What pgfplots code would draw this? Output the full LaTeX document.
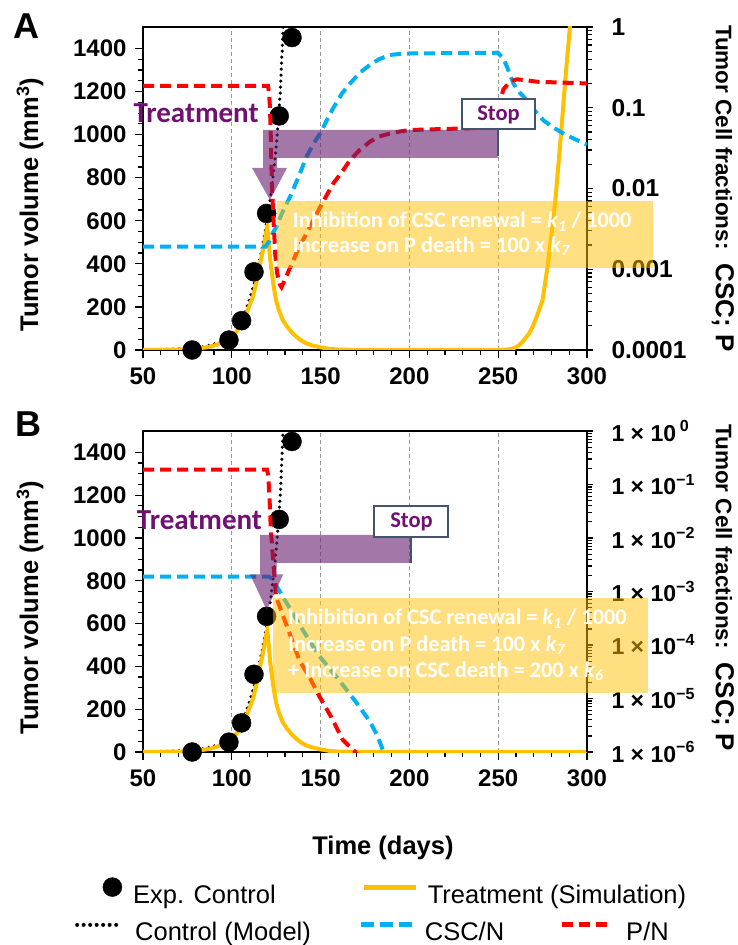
\documentclass[border=0pt]{standalone}
\usepackage{pgfplots}
\pgfplotsset{compat=1.18}
\usepackage{fontspec}
\setmainfont{Liberation Sans}
\newfontfamily\calfont{Carlito}
\definecolor{yel}{RGB}{255,192,0}
\definecolor{cblue}{RGB}{0,176,240}
\definecolor{cred}{RGB}{255,0,0}
\definecolor{purp}{RGB}{112,16,112}
\definecolor{arrowp}{RGB}{102,30,110}
\definecolor{stopb}{RGB}{68,84,106}

\pgfplotsset{
  commonax/.style={scale only axis, width=444pt, xmin=50, xmax=300,
    tick align=outside, axis line style={line width=1.3pt},
    every tick/.style={black, line width=1.2pt}},
  leftax/.style={commonax, ymin=0, ymax=1500,
    xtick={50,100,150,200,250,300}, xticklabels={50,100,150,200,250,300},
    minor x tick num=4,
    ytick={0,200,400,600,800,1000,1200,1400},
    yticklabels={0,200,400,600,800,1000,1200,1400},
    minor y tick num=3,
    xtick pos=left, ytick pos=left,
    major tick length=8pt, minor tick length=5pt,
    xmajorgrids, grid style={gray!80, dash pattern=on 4pt off 3pt, line width=0.9pt},
    tick label style={font=\fontsize{24}{24}\selectfont\bfseries},
    yticklabel style={xshift=-5pt},
    xticklabel style={yshift=-6pt},
    ylabel={Tumor volume (mm\textsuperscript{3})},
    every axis y label/.style={at={(axis description cs:-0.2545,0.45)}, rotate=90, anchor=center, font=\fontsize{25.5}{26}\selectfont\bfseries},
  },
  rightax/.style={commonax, axis x line=none, axis y line*=right, ytick pos=right,
    major tick length=6pt, minor tick length=5pt,
    every axis y label/.style={at={(axis description cs:1.306,0.5)}, rotate=-90, anchor=center, font=\bfseries},
    ylabel={\fontsize{22.5}{23}\selectfont Tumor Cell fractions:\hspace{14pt}\fontsize{26}{27}\selectfont CSC; P},
  },
  yelplot/.style={yel, line width=4pt},
  ctrlplot/.style={black, line width=3.5pt, line cap=round, dash pattern=on 0pt off 6pt},
  dotplot/.style={only marks, mark=*, mark size=9.5pt, black},
  blueplot/.style={cblue, line width=4pt, dash pattern=on 11pt off 6pt},
  redplot/.style={cred, line width=4pt, dash pattern=on 11pt off 6pt},
}

\begin{document}
\begin{tikzpicture}[x=1pt,y=1pt]
\path[use as bounding box] (0,0) rectangle (737,945);

%%%%%%%%%%%%%%%% PANEL A %%%%%%%%%%%%%%%%
\begin{axis}[leftax, height=323pt, at={(143pt,595pt)}, anchor=south west]
\addplot[ctrlplot] coordinates {(50,0.5) (80,7) (95,38) (100,58) (105,120) (110,235) (114,350) (117,470) (119,560) (121,660) (123,790) (124.5,900) (126,1040) (127.3,1200) (128.3,1380) (129,1520)};
\addplot[yelplot] coordinates {(50,0.3) (60,0.8) (70,2) (77,4) (82,8) (87,14) (91,23) (95,36) (98,48) (100.6,62) (103,90) (106,135) (109,185) (112,250) (114,320) (115.6,387) (117,440) (118.5,505) (119.3,545) (120,571) (120.8,500) (121.5,430) (122.1,387) (123.5,300) (124.9,232) (126.5,185) (128.7,139) (131,110) (134.3,77) (138,50) (141.8,31) (145,22) (149.5,13) (155,5) (160,2) (170,0.5) (200,0) (250,0.3) (255,2) (258,6) (260.4,14) (262.5,28) (264.5,46) (267.5,78) (269.5,110) (271.7,155) (275,232) (277.8,387) (280.1,542) (282.2,697) (283.8,851) (285.4,1006) (286.9,1161) (288.4,1315) (290.4,1500) (291,1580)};
\addplot[dotplot] coordinates {(77.7,0) (98.4,46) (105.5,136) (112.5,363) (119.6,634) (126.7,1087) (133.9,1451)};
\end{axis}
\begin{semilogyaxis}[rightax, height=323pt, at={(143pt,595pt)}, anchor=south west,
  ymin=1e-4, ymax=1,
  ytick={1e-4,1e-3,1e-2,1e-1,1}, yticklabels={0.0001,0.001,0.01,0.1,1},
  minor ytick={2e-4,3e-4,4e-4,5e-4,6e-4,7e-4,8e-4,9e-4,2e-3,3e-3,4e-3,5e-3,6e-3,7e-3,8e-3,9e-3,0.02,0.03,0.04,0.05,0.06,0.07,0.08,0.09,0.2,0.3,0.4,0.5,0.6,0.7,0.8,0.9},
  yticklabel style={font=\fontsize{24.5}{25}\selectfont\bfseries, xshift=15pt}]
\addplot[blueplot] coordinates {(50,0.0019) (119,0.0019) (121,0.0022) (123,0.0028) (125.3,0.0034) (128,0.0048) (132.8,0.0079) (137,0.013) (142.2,0.025) (146,0.036) (149.8,0.048) (153.5,0.07) (157.2,0.10) (162,0.15) (166.6,0.20) (172,0.27) (177.8,0.34) (183,0.40) (189,0.45) (195,0.465) (200,0.47) (249.7,0.48) (252.9,0.41) (255.5,0.3) (258.5,0.20) (262,0.155) (266,0.125) (270,0.095) (275.4,0.07) (281,0.057) (286.7,0.048) (293,0.041) (300,0.035)};
\addplot[redplot] coordinates {(50,0.186) (120.4,0.186) (121,0.15) (121.5,0.1) (122,0.04) (122.5,0.012) (123.5,0.004) (124.5,0.0015) (125.5,0.0009) (127,0.00065) (128,0.0006) (130,0.00075) (132,0.00095) (134.7,0.0013) (138,0.0019) (142.2,0.0028) (146,0.0041) (149.8,0.0059) (153.5,0.0083) (157.2,0.0116) (162,0.016) (166.6,0.0225) (172,0.03) (177.8,0.038) (183,0.044) (189,0.048) (195,0.051) (200,0.053) (225,0.055) (249.7,0.057) (250.5,0.08) (251.2,0.125) (253,0.17) (256.6,0.21) (260.4,0.225) (265,0.22) (271.7,0.21) (285,0.205) (300,0.2)};
\end{semilogyaxis}

%%%%%%%%%%%%%%%% PANEL B %%%%%%%%%%%%%%%%
\begin{axis}[leftax, height=321pt, at={(143pt,193pt)}, anchor=south west,
  xlabel={Time (days)},
  every axis x label/.style={at={(axis description cs:0.5405,-0.299)}, anchor=center, font=\fontsize{25.5}{26}\selectfont\bfseries},
  legend style={draw=none, fill=none, inner sep=0pt, at={(axis description cs:-0.0912,-0.433)}, anchor=west,
    font=\fontsize{25.5}{26}\selectfont, nodes={inner sep=0pt},
    /tikz/column 1/.style={column sep=11pt}, /tikz/column 2/.style={column sep=86pt}, /tikz/column 3/.style={column sep=9pt}},
  legend columns=2]
\addlegendimage{legend image code/.code={\fill[black] (9.5pt,7.5pt) circle (9.5pt);}}
\addlegendentry{Exp. Control}
\addlegendimage{legend image code/.code={\draw[yel, line width=5pt] (0pt,7.5pt) -- (52pt,7.5pt);}}
\addlegendentry{Treatment (Simulation)}
\addplot[ctrlplot, forget plot] coordinates {(50,0.5) (80,7) (95,38) (100,58) (105,120) (110,235) (114,350) (117,470) (119,560) (121,660) (123,790) (124.5,900) (126,1040) (127.3,1200) (128.3,1380) (129,1520)};
\addplot[yelplot, forget plot] coordinates {(50,0.3) (60,0.8) (70,2) (77,4) (82,8) (87,14) (91,23) (95,36) (98,48) (100.6,62) (103,90) (106,135) (109,185) (112,250) (114,320) (115.6,387) (117,440) (118.5,505) (119.3,545) (120,571) (120.8,500) (121.5,430) (122.1,387) (123.5,300) (124.9,232) (126.5,185) (128.7,139) (131,110) (134.3,77) (138,50) (141.8,31) (145,22) (149.5,13) (155,5) (160,2) (170,0.5) (200,0) (300,0)};
\addplot[dotplot, forget plot] coordinates {(77.7,0) (98.4,46) (105.5,136) (112.5,363) (119.6,634) (126.7,1087) (133.9,1451)};
\end{axis}
\begin{semilogyaxis}[rightax, height=321pt, at={(143pt,193pt)}, anchor=south west,
  ymin=1e-6, ymax=1,
  ytick={1e-6,1e-5,1e-4,1e-3,1e-2,1e-1,1},
  yticklabels={1 × 10\textsuperscript{−6},1 × 10\textsuperscript{−5},1 × 10\textsuperscript{−4},1 × 10\textsuperscript{−3},1 × 10\textsuperscript{−2},1 × 10\textsuperscript{−1},1 × 10\,\textsuperscript{0}},
  minor ytick={2e-6,3e-6,4e-6,5e-6,6e-6,7e-6,8e-6,9e-6,2e-5,3e-5,4e-5,5e-5,6e-5,7e-5,8e-5,9e-5,2e-4,3e-4,4e-4,5e-4,6e-4,7e-4,8e-4,9e-4,2e-3,3e-3,4e-3,5e-3,6e-3,7e-3,8e-3,9e-3,0.02,0.03,0.04,0.05,0.06,0.07,0.08,0.09,0.2,0.3,0.4,0.5,0.6,0.7,0.8,0.9},
  yticklabel style={font=\fontsize{23}{24}\selectfont\bfseries, xshift=15pt},
  every axis y label/.style={at={(axis description cs:1.306,0.512)}, rotate=-90, anchor=center, font=\bfseries},
  legend style={draw=none, fill=none, inner sep=0pt, at={(axis description cs:-0.1532,-0.562)}, anchor=west,
    font=\fontsize{25.5}{26}\selectfont, nodes={inner sep=0pt},
    /tikz/column 1/.style={column sep=12pt}, /tikz/column 2/.style={column sep=48pt}, /tikz/column 3/.style={column sep=10pt},
    /tikz/column 4/.style={column sep=55pt}, /tikz/column 5/.style={column sep=17pt}},
  legend columns=3]
\addlegendimage{legend image code/.code={\draw[black, line width=4pt, line cap=round, dash pattern=on 0pt off 6.5pt] (2pt,7.5pt) -- (46pt,7.5pt);}}
\addlegendentry{Control (Model)}
\addlegendimage{legend image code/.code={\draw[cblue, line width=5pt, dash pattern=on 13pt off 6pt] (0pt,7.5pt) -- (51pt,7.5pt);}}
\addlegendentry{CSC/N}
\addlegendimage{legend image code/.code={\draw[cred, line width=5pt, dash pattern=on 11pt off 6pt] (0pt,7.5pt) -- (45pt,7.5pt);}}
\addlegendentry{P/N}
\addplot[blueplot, forget plot] coordinates {(50,0.0019) (121,0.0019) (123,0.0017) (125,0.0013) (128.7,0.0008) (135,0.00036) (140,0.00019) (149.3,0.000062) (160,0.000023) (170,0.0000085) (177.8,0.0000037) (182,0.000002) (185.5,0.000001) (187,0.0000008)};
\addplot[redplot, forget plot] coordinates {(50,0.19) (119.8,0.19) (120.5,0.15) (121.2,0.06) (122,0.014) (123.4,0.0034) (124.9,0.0008) (128,0.00042) (132.4,0.00017) (138,0.000052) (144,0.000024) (149.3,0.000011) (156,0.0000045) (162.4,0.0000017) (169.5,0.000001) (171,0.0000008)};
\end{semilogyaxis}

%%%%%%%%%%%%%%%% ANNOTATIONS %%%%%%%%%%%%%%%%
\node[anchor=base west, inner sep=0pt, font=\fontsize{36}{36}\selectfont\bfseries] at (13,906) {A};
\node[anchor=base west, inner sep=0pt, font=\fontsize{36}{36}\selectfont\bfseries] at (15,508.3) {B};

% Panel A annotations
\fill[arrowp, fill opacity=0.6] (263,815) -- (497.7,815) -- (497.7,787) -- (277,787) -- (277,777) -- (287,777) -- (270,745) -- (252,777) -- (263,777) -- cycle;
\node[anchor=base west, inner sep=0pt, text=purp, font=\calfont\fontsize{29}{29}\selectfont\bfseries] at (133.3,822.7) {Treatment};
\draw[stopb, line width=2.2pt] (498,816) -- (498,789);
\draw[stopb, line width=2.2pt, fill=white] (462,846) rectangle (535,816);
\node[inner sep=0pt, text=purp, font=\calfont\fontsize{22.5}{23}\selectfont\bfseries] at (498.5,830) {Stop};
\fill[yel, fill opacity=0.5] (277,744) rectangle (653,677);
\node[anchor=base west, inner sep=0pt, text=white, font=\calfont\fontsize{22.3}{23}\selectfont\bfseries] at (292.7,717) {Inhibition of CSC renewal = \textit{k}\textsubscript{\textit{1}} / 1000};
\node[anchor=base west, inner sep=0pt, text=white, font=\calfont\fontsize{22.3}{23}\selectfont\bfseries] at (292.7,692.5) {Increase on P death = 100 x \textit{k}\textsubscript{\textit{7}}};

% Panel B annotations
\fill[arrowp, fill opacity=0.6] (260,410) -- (411,410) -- (411,382) -- (276.7,382) -- (276.7,370.7) -- (283.3,370.7) -- (266.7,335) -- (250,370.7) -- (260,370.7) -- cycle;
\node[anchor=base west, inner sep=0pt, text=purp, font=\calfont\fontsize{29}{29}\selectfont\bfseries] at (136.7,415) {Treatment};
\draw[stopb, line width=2.2pt] (411,408.3) -- (411,382);
\draw[stopb, line width=2.2pt, fill=white] (374,439.3) rectangle (448,408.3);
\node[inner sep=0pt, text=purp, font=\calfont\fontsize{22.5}{23}\selectfont\bfseries] at (411.5,423.3) {Stop};
\fill[yel, fill opacity=0.5] (273,347) rectangle (648,252);
\node[anchor=base west, inner sep=0pt, text=white, font=\calfont\fontsize{22.3}{23}\selectfont\bfseries] at (288,320) {Inhibition of CSC renewal = \textit{k}\textsubscript{\textit{1}} / 1000};
\node[anchor=base west, inner sep=0pt, text=white, font=\calfont\fontsize{22.3}{23}\selectfont\bfseries] at (288,293.3) {Increase on P death = 100 x \textit{k}\textsubscript{\textit{7}}};
\node[anchor=base west, inner sep=0pt, text=white, font=\calfont\fontsize{22.3}{23}\selectfont\bfseries] at (288,267.7) {+ Increase on CSC death = 200 x \textit{k}\textsubscript{\textit{6}}};
\end{tikzpicture}
\end{document}
